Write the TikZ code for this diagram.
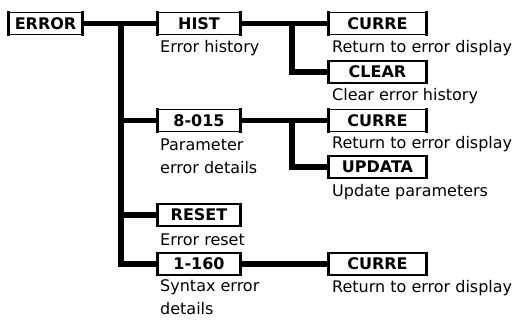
\documentclass[tikz,border=0pt]{standalone}
\usepackage{fontspec}
\setmainfont{DejaVu Sans}
\begin{document}
\begin{tikzpicture}[x=1pt,y=-1pt,
  menubox/.style={draw, line width=1.2pt, fill=white, inner sep=0pt,
    minimum height=22pt, font=\fontsize{16}{18}\selectfont\bfseries,
    append after command={
      ([yshift=0.6pt]\tikzlastnode.north west) edge[line width=3pt] ([yshift=-0.6pt]\tikzlastnode.south west)
      ([yshift=0.6pt]\tikzlastnode.north east) edge[line width=3pt] ([yshift=-0.6pt]\tikzlastnode.south east)}},
  leftbox/.style={menubox, minimum width=82pt},
  rightbox/.style={menubox, minimum width=97pt},
  note/.style={anchor=base west, inner sep=0pt, align=left,
    font=\fontsize{16}{23}\selectfont},
  link/.style={line width=5.5pt, line join=miter}]
\useasboundingbox (0,0) rectangle (518,320);

% junction points of the connector tree
\coordinate (tA) at (121,23.5);
\coordinate (tB) at (292,23.5);
\coordinate (tC) at (292,120.5);

% menu boxes
\node[menubox, minimum width=73pt] (err) at (45.5,23.5) {ERROR};
\node[leftbox] (hist) at (199,23.5) {HIST};
\node[leftbox] (par) at (199,120.5) {8-015};
\node[leftbox] (rst) at (199,215) {RESET};
\node[leftbox] (syn) at (199,264) {1-160};
\node[rightbox] (cur1) at (377.5,23.5) {CURRE};
\node[rightbox] (clr) at (377.5,72) {CLEAR};
\node[rightbox] (cur2) at (377.5,120.5) {CURRE};
\node[rightbox] (upd) at (377.5,167) {UPDATA};
\node[rightbox] (cur3) at (377.5,264) {CURRE};

% connector tree
\draw[link] (err.east) -- (hist.west);
\draw[link] (tA) |- (syn.west);
\draw[link] (tA |- par.west) -- (par.west);
\draw[link] (tA |- rst.west) -- (rst.west);
\draw[link] (hist.east) -- (cur1.west);
\draw[link] (tB) |- (clr.west);
\draw[link] (par.east) -- (cur2.west);
\draw[link] (tC) |- (upd.west);
\draw[link] (syn.east) -- (cur3.west);

% descriptions (base anchor sits on the last line)
\node[note] (dhist) at (160,53) {Error history};
\node[note] (dpar) at (160,174) {Parameter\\error details};
\node[note] (drst) at (160,245) {Error reset};
\node[note] (dsyn) at (160,314) {Syntax error\\details};
\node[note] (dcur1) at (332,53) {Return to error display};
\node[note] (dclr) at (332,101) {Clear error history};
\node[note] (dcur2) at (332,149) {Return to error display};
\node[note] (dupd) at (332,196) {Update parameters};
\node[note] (dcur3) at (332,292) {Return to error display};
\end{tikzpicture}
\end{document}
